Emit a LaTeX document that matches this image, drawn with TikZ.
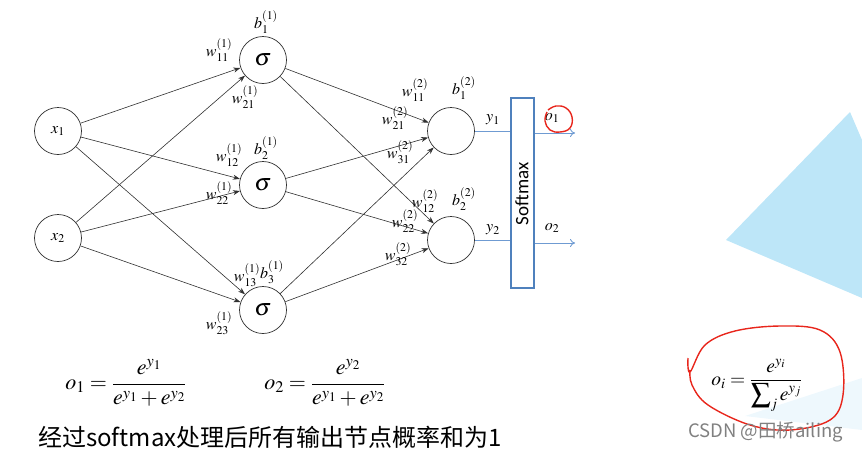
\documentclass[tikz,border=0pt]{standalone}
\usepackage{amsmath}
\usepackage{mathptmx}
\usepackage[no-math]{fontspec}
\newfontfamily\cjkfont{Noto Sans CJK SC}
\newfontfamily\calfont{Carlito}
\usetikzlibrary{arrows.meta}
\definecolor{edgec}{HTML}{303030}
\definecolor{blu}{HTML}{4F81BD}
\definecolor{lblu}{HTML}{6F9BD2}
\definecolor{tri}{HTML}{BDE6F8}
\definecolor{tri2}{HTML}{EEF8FD}
\definecolor{redp}{HTML}{E8261C}
\tikzset{
  neuron/.style={circle,draw=edgec,line width=0.7pt,minimum size=47pt,inner sep=0pt,font=\fontsize{24}{26}\selectfont},
  innode/.style={circle,draw=edgec,line width=0.7pt,minimum size=47pt,inner sep=0pt,font=\fontsize{16}{18}\selectfont},
  wlab/.style={inner sep=0pt,font=\fontsize{16}{18}\selectfont},
  conn/.style={draw=edgec,line width=0.6pt,-{Stealth[length=7pt,width=5pt]}},
  bconn/.style={draw=lblu,line width=0.9pt},
  barrow/.style={draw=lblu,line width=0.9pt,-{To[length=5pt,width=8pt]}},
}
\begin{document}
\begin{tikzpicture}[x=1pt,y=-1pt]
\useasboundingbox (0,0) rectangle (862,453);
% background shapes
\fill[tri] (850,112) -- (862,140) -- (862,298) -- (726,240) -- cycle;
\fill[tri2] (745,416) -- (862,378) -- (862,430) -- cycle;
% nodes
\node[innode] (x1) at (58,131) {$x_1$};
\node[innode] (x2) at (58,238) {$x_2$};
\node[neuron] (s1) at (263,60) {$\sigma$};
\node[neuron] (s2) at (263,185) {$\sigma$};
\node[neuron] (s3) at (263,310) {$\sigma$};
\node[neuron] (o1) at (451,131) {};
\node[neuron] (o2) at (451,240) {};
\node[draw=blu,line width=2pt,minimum width=23pt,minimum height=190pt,inner sep=0pt] (sm) at (522,192.5) {};
\node[rotate=90,font=\calfont\fontsize{19}{21}\selectfont,inner sep=0pt] (smt) at (522,194) {Softmax};
% edges
\foreach \a in {x1,x2}{\foreach \b in {s1,s2,s3}{\draw[conn] (\a) -- (\b);}}
\foreach \a in {s1,s2,s3}{\foreach \b in {o1,o2}{\draw[conn] (\a) -- (\b);}}
% output lines
\coordinate (sml1) at (sm.west |- o1.east);
\coordinate (sml2) at (sm.west |- o2.east);
\coordinate (e1) at (575,133);
\coordinate (e2) at (575,243);
\draw[bconn] (o1.east) -- (sml1);
\draw[bconn] (o2.east) -- (sml2);
\draw[barrow] (sm.east |- e1) -- (e1);
\draw[barrow] (sm.east |- e2) -- (e2);
% labels
\node[wlab] (ly1) at (493,120) {$y_1$};
\node[wlab] (ly2) at (493,230) {$y_2$};
\node[wlab] (lo1) at (552,118) {$o_1$};
\node[wlab] (lo2) at (552,228) {$o_2$};
\node[wlab] (b11) at (266,22) {$b_1^{(1)}$};
\node[wlab] (b21) at (266,148) {$b_2^{(1)}$};
\node[wlab] (b31) at (272,272) {$b_3^{(1)}$};
\node[wlab] (b12) at (464,88) {$b_1^{(2)}$};
\node[wlab] (b22) at (464,199) {$b_2^{(2)}$};
\node[wlab] (w111) at (219,50) {$w_{11}^{(1)}$};
\node[wlab] (w211) at (245,97) {$w_{21}^{(1)}$};
\node[wlab] (w121) at (229,155) {$w_{12}^{(1)}$};
\node[wlab] (w221) at (219,193) {$w_{22}^{(1)}$};
\node[wlab] (w131) at (247,275) {$w_{13}^{(1)}$};
\node[wlab] (w231) at (219,323) {$w_{23}^{(1)}$};
\node[wlab] (w112) at (415,90) {$w_{11}^{(2)}$};
\node[wlab] (w212) at (395,118) {$w_{21}^{(2)}$};
\node[wlab] (w312) at (400,152) {$w_{31}^{(2)}$};
\node[wlab] (w122) at (425,201) {$w_{12}^{(2)}$};
\node[wlab] (w222) at (405,221) {$w_{22}^{(2)}$};
\node[wlab] (w322) at (398,254) {$w_{32}^{(2)}$};
% red mark around o1
\draw[redp,line width=1.4pt] plot[smooth,tension=0.7] coordinates {(548,110) (556,106) (566,108) (572,117) (570,128) (560,132) (550,130) (545,121) (547,112)};
% formulas
\node[inner sep=0pt,font=\fontsize{22}{26}\selectfont] (f1) at (126,383) {$o_1=\dfrac{e^{y_1}}{e^{y_1}+e^{y_2}}$};
\node[inner sep=0pt,font=\fontsize{22}{26}\selectfont] (f2) at (325,383) {$o_2=\dfrac{e^{y_2}}{e^{y_1}+e^{y_2}}$};
\node[inner sep=0pt,font=\fontsize{19.5}{23}\selectfont] (f3) at (757,385) {$o_i=\dfrac{e^{y_i}}{\displaystyle\sum\nolimits_j e^{y_j}}$};
\draw[redp,line width=1.4pt] plot[smooth,tension=0.6] coordinates {(688,358) (690,372) (705,345) (735,331) (780,326) (820,330) (840,352) (843,395) (830,420) (790,430) (750,425) (708,405) (692,385) (690,370)};
% chinese text
\node[anchor=west,inner sep=0pt,font=\cjkfont\fontsize{24}{27}\selectfont] (cn) at (38,437) {经过softmax处理后所有输出节点概率和为1};
\node[anchor=west,inner sep=0pt,text=gray,font=\cjkfont\fontsize{18.5}{21}\selectfont] (wm) at (688,432) {CSDN @田桥ailing};
\end{tikzpicture}
\end{document}
